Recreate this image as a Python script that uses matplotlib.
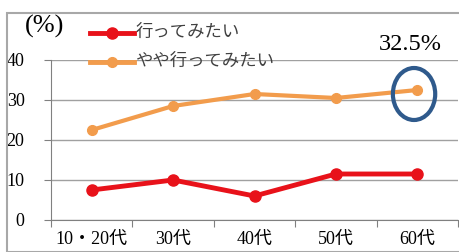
import matplotlib.pyplot as plt
from matplotlib.patches import Ellipse, Rectangle
from matplotlib.lines import Line2D

ages = ['10・20代', '30代', '40代', '50代', '60代']
want = [7.5, 10.0, 6.0, 11.5, 11.5]
somewhat = [22.5, 28.5, 31.5, 30.5, 32.5]
yticks = [0, 10, 20, 30, 40]

fonts = ['Liberation Serif', 'Noto Sans CJK JP']
red = '#E8121A'
orange = '#F29C4C'

W, H = 459, 252
fig = plt.figure(figsize=(W / 100, H / 100), dpi=100)

# outer frame of the picture
fig.patches.append(Rectangle((7 / W, 0), 1, 1 - 13 / H, transform=fig.transFigure,
                             fill=False, edgecolor='#A8A8A8', lw=1.5))

ax = fig.add_axes([51 / W, 1 - 220 / H, (458 - 51) / W, (220 - 60) / H])
x = list(range(len(ages)))
ax.plot(x, want, color=red, lw=3.5, marker='o', ms=8, zorder=3)
ax.plot(x, somewhat, color=orange, lw=3, marker='o', ms=7, zorder=3)

ax.set_xlim(-0.5, 4.5)
ax.set_ylim(0, 40)
ax.set_yticks(yticks)
ax.set_yticklabels([str(v) for v in yticks], family=fonts, fontsize=13)
ax.set_xticks([i - 0.5 for i in range(6)])
ax.set_xticklabels([])
ax.set_xticks(x, minor=True)
ax.set_xticklabels(ages, minor=True, family=fonts, fontsize=13)
ax.tick_params(axis='x', which='minor', length=0, pad=8)
ax.tick_params(axis='x', which='major', length=5, direction='out', color='#808080')
ax.tick_params(axis='y', length=5, direction='out', color='#808080', pad=14)
ax.grid(axis='y', color='#A0A0A0', lw=1)
for s in ['top', 'right']:
    ax.spines[s].set_visible(False)
ax.spines['left'].set_color('#808080')
ax.spines['bottom'].set_color('#808080')

# highlight circle round the last point
ax.add_patch(Ellipse((3.96, 31.5), 0.52, 13, fill=False, edgecolor='#2F5A8C', lw=3, zorder=4))

fig.text(25 / W, 1 - 26 / H, '(%)', family=fonts, fontsize=19, va='center')
fig.text(379 / W, 1 - 44 / H, '32.5%', family=fonts, fontsize=17.5, va='center')

# legend
for yy, col, lab, ms in [(33, red, '行ってみたい', 8), (62, orange, 'やや行ってみたい', 7)]:
    fig.add_artist(Line2D([90 / W, 112 / W, 134 / W], [1 - yy / H] * 3, color=col, lw=3.5,
                          marker='o', markevery=[1], ms=ms, transform=fig.transFigure))
    fig.text(136 / W, 1 - yy / H, lab, family=fonts, fontsize=12.5, va='center', color='#404040')

fig.savefig('out.png', dpi=100)
